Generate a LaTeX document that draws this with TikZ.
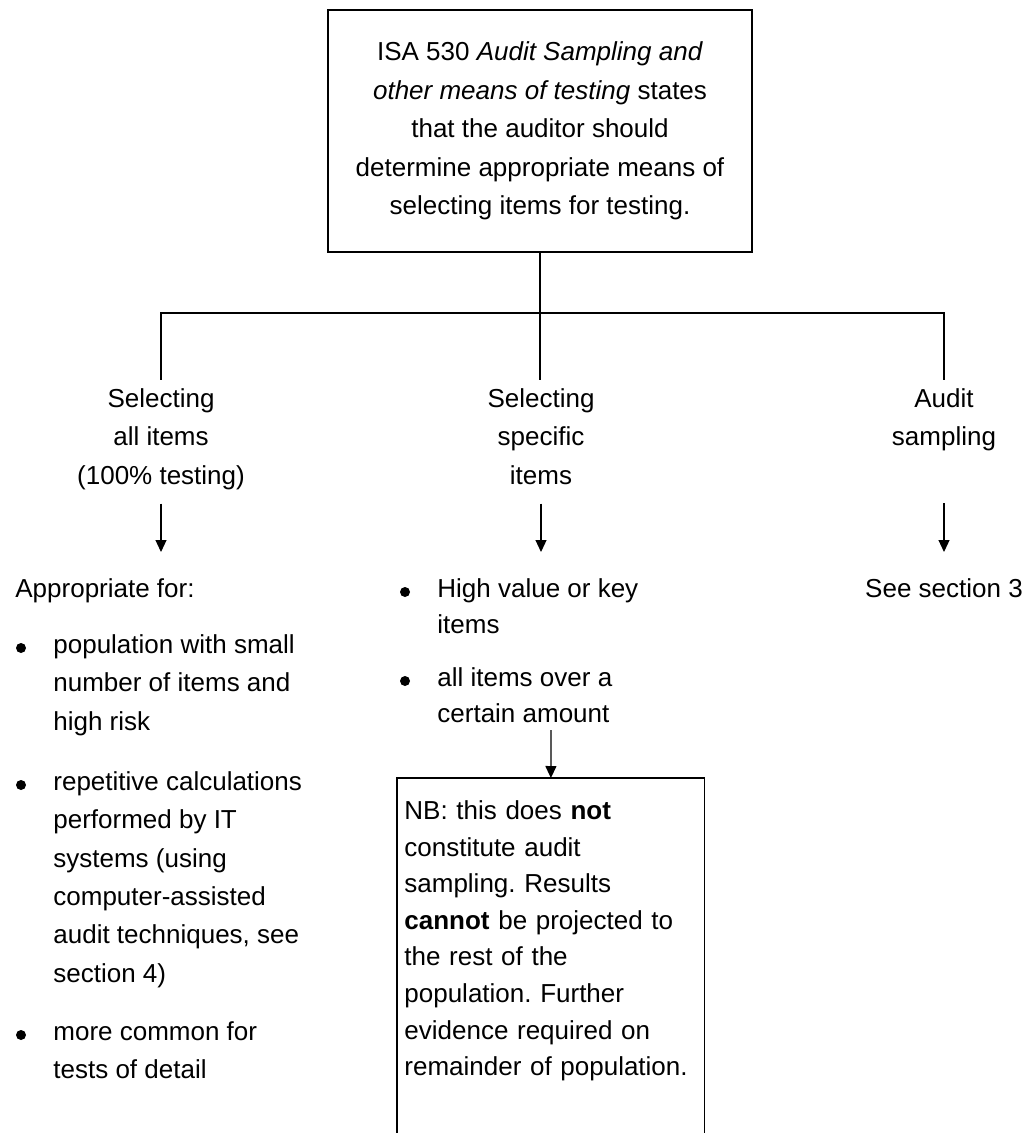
\documentclass[tikz,border=0pt]{standalone}
\usepackage{fontspec}
\setmainfont{Liberation Sans}
\usetikzlibrary{arrows.meta,positioning}
\frenchspacing

\begin{document}
\begin{tikzpicture}[x=0.5pt, y=-0.5pt,
    every node/.style={font=\fontsize{13}{19.2}\selectfont, inner sep=0pt},
    topbox/.style={draw, line width=0.6pt, minimum width=212pt,
      minimum height=121pt, align=center},
    branch/.style={anchor=north, align=center},
    txt/.style={anchor=north west, align=left},
    dot/.style={circle, fill, minimum size=5pt},
    arr/.style={-{Triangle[length=6pt,width=5.5pt]}, line width=0.6pt},
    link/.style={line width=0.6pt}]
  \useasboundingbox (0,0) rectangle (1031,1133);
  % --- Top statement ---
  \node[topbox] (isa) at (540,131)
    {ISA 530 \textit{Audit Sampling and}\\
     \textit{other means of testing} states\\
     that the auditor should\\
     determine appropriate means of\\
     selecting items for testing.};
  % --- Three branches ---
  \node[branch] (all)  at (161,380) {\strut Selecting\\all items\\(100\% testing)\strut};
  \node[branch] (spec) at (541,380) {\strut Selecting\\specific\\items\strut};
  \node[branch] (samp) at (944,380) {\strut Audit\\sampling\strut};
  \coordinate (bar) at (540,313);
  \draw[link] (isa.south) -- (isa.south |- spec.north);
  \draw[link] (all.north) |- (bar) -| (samp.north);
  % --- Arrows down ---
  \coordinate (allto)  at (161,552);
  \coordinate (specto) at (541,552);
  \coordinate (sampto) at (944,552);
  \draw[arr, shorten <=3.75pt] (all) -- (allto);
  \draw[arr, shorten <=3.75pt] (spec) -- (specto);
  \draw[arr, shorten <=22.75pt] (samp) -- (sampto);
  % --- Left column ---
  \node[anchor=base west] (apfor) at (15,597) {Appropriate for:};
  \node[dot] (dA) at (21,648) {};
  \node[txt] (popn) at (53,626.1)
    {\strut population with small\\number of items and\\high risk};
  \node[dot] (dB) at (21,785) {};
  \node[txt] (calc) at (53,763.1)
    {\strut repetitive calculations\\performed by IT\\systems (using\\
     computer-assisted\\audit techniques, see\\section 4)};
  \node[dot] (dC) at (21,1035) {};
  \node[txt] (tdet) at (53,1013.1)
    {\strut more common for\\tests of detail};
  % --- Middle column ---
  \node[dot] (dD) at (405,592) {};
  \node[txt, font=\fontsize{13}{17.8}\selectfont] (keyit) at (437,572.1)
    {\strut High value or key\\items};
  \node[dot] (dE) at (405,681) {};
  \node[txt, font=\fontsize{13}{17.8}\selectfont] (overamt) at (437,661.1)
    {\strut all items over a\\certain amount};
  \node[txt, font=\fontsize{13}{18.3}\selectfont, inner xsep=3.5pt, inner ysep=7.7pt,
        text width=146.5pt] (nb) at (397,778)
    {\strut NB: this does \textbf{not}\\constitute audit\\sampling. Results\\
     \textbf{cannot} be projected to\\the rest of the\\population. Further\\
     evidence required on\\remainder of population.};
  \coordinate (floor) at (0,1140);
  \draw[link] (nb.north west |- floor) -- (nb.north west) -- (nb.north east)
    -- (nb.north east |- floor);
  \coordinate (nbfrom) at (551,730);
  \draw[arr] (nbfrom) -- (nb.north);
  % --- Right column ---
  \node[anchor=base] (see3) at (944,597) {See section 3};
\end{tikzpicture}
\end{document}
